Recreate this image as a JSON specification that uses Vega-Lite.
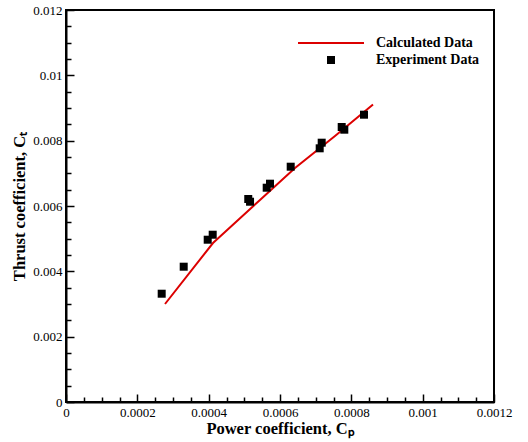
{
  "$schema": "https://vega.github.io/schema/vega-lite/v6.json",
  "width": 428,
  "height": 392,
  "autosize": {"type": "none"},
  "padding": {"left": 66, "top": 10, "right": 34, "bottom": 40},
  "background": "white",
  "config": {
    "view": {"stroke": "black", "strokeWidth": 2},
    "font": "Liberation Serif",
    "axis": {
      "grid": false,
      "domainColor": "black",
      "domainWidth": 2,
      "tickColor": "black",
      "tickWidth": 1.5,
      "labelFont": "Liberation Serif",
      "labelFontSize": 13,
      "labelColor": "black",
      "titleFont": "Liberation Serif",
      "titleFontSize": 16.5,
      "titleFontWeight": "bold",
      "titleColor": "black",
      "labelOverlap": false,
      "labelFlush": false
    }
  },
  "datasets": {
    "calc": [
      {"cp": 0.0002776, "ct": 0.0030, "series": "Calculated Data"},
      {"cp": 0.0004121, "ct": 0.004867, "series": "Calculated Data"},
      {"cp": 0.0004458, "ct": 0.005204, "series": "Calculated Data"},
      {"cp": 0.0005439, "ct": 0.006184, "series": "Calculated Data"},
      {"cp": 0.0006421, "ct": 0.007163, "series": "Calculated Data"},
      {"cp": 0.0007542, "ct": 0.008143, "series": "Calculated Data"},
      {"cp": 0.0008608, "ct": 0.009107, "series": "Calculated Data"}
    ],
    "exp": [
      {"cp": 0.0002683, "ct": 0.003315, "series": "Experiment Data"},
      {"cp": 0.00033, "ct": 0.004142, "series": "Experiment Data"},
      {"cp": 0.0003973, "ct": 0.004968, "series": "Experiment Data"},
      {"cp": 0.0004113, "ct": 0.005121, "series": "Experiment Data"},
      {"cp": 0.000511, "ct": 0.006214, "series": "Experiment Data"},
      {"cp": 0.000516, "ct": 0.006131, "series": "Experiment Data"},
      {"cp": 0.0005627, "ct": 0.00656, "series": "Experiment Data"},
      {"cp": 0.000572, "ct": 0.006683, "series": "Experiment Data"},
      {"cp": 0.00063, "ct": 0.007203, "series": "Experiment Data"},
      {"cp": 0.0007113, "ct": 0.007766, "series": "Experiment Data"},
      {"cp": 0.0007169, "ct": 0.007938, "series": "Experiment Data"},
      {"cp": 0.000773, "ct": 0.008418, "series": "Experiment Data"},
      {"cp": 0.0007803, "ct": 0.008336, "series": "Experiment Data"},
      {"cp": 0.0008355, "ct": 0.008795, "series": "Experiment Data"}
    ]
  },
  "encoding": {
    "x": {
      "field": "cp",
      "type": "quantitative",
      "scale": {"domain": [0, 0.0012], "nice": false, "zero": false},
      "axis": {
        "title": "Power coefficient, Cₚ",
        "values": [0, 0.00005, 0.0001, 0.00015, 0.0002, 0.00025, 0.0003, 0.00035, 0.0004, 0.00045, 0.0005, 0.00055, 0.0006, 0.00065, 0.0007, 0.00075, 0.0008, 0.00085, 0.0009, 0.00095, 0.001, 0.00105, 0.0011, 0.00115, 0.0012],
        "labelExpr": "round(datum.value*1e5) % 20 == 0 ? format(datum.value, '~g') : ''",
        "tickSize": {"condition": {"test": "round(datum.value*1e5) % 20 != 0", "value": -5}, "value": -8},
        "labelPadding": 12,
        "titlePadding": -2
      }
    },
    "y": {
      "field": "ct",
      "type": "quantitative",
      "scale": {"domain": [0, 0.012], "nice": false, "zero": false},
      "axis": {
        "title": "Thrust coefficient, Cₜ",
        "values": [0, 0.0005, 0.001, 0.0015, 0.002, 0.0025, 0.003, 0.0035, 0.004, 0.0045, 0.005, 0.0055, 0.006, 0.0065, 0.007, 0.0075, 0.008, 0.0085, 0.009, 0.0095, 0.01, 0.0105, 0.011, 0.0115, 0.012],
        "labelExpr": "round(datum.value*1e4) % 20 == 0 ? format(datum.value, '~g') : ''",
        "tickSize": {"condition": {"test": "round(datum.value*1e4) % 20 != 0", "value": -5}, "value": -8},
        "labelPadding": 12,
        "titlePadding": 5
      }
    },
    "color": {
      "field": "series",
      "type": "nominal",
      "scale": {"domain": ["Calculated Data", "Experiment Data"], "range": ["#dc0000", "black"]},
      "legend": {
        "title": null,
        "orient": "none",
        "legendX": 258,
        "legendY": 26,
        "labelFont": "Liberation Serif",
        "labelFontSize": 14,
        "labelFontWeight": "bold",
        "labelColor": "black",
        "labelOffset": 38,
        "rowPadding": 3,
        "symbolSize": 121,
        "encode": {
          "symbols": {
            "update": {
              "shape": {"signal": "datum.value === 'Calculated Data' ? 'M-6,0H6' : 'M-0.73,-0.73H0.73V0.73H-0.73Z'"},
              "fill": {"signal": "datum.value === 'Calculated Data' ? 'transparent' : 'black'"},
              "stroke": {"signal": "datum.value === 'Calculated Data' ? '#dc0000' : 'transparent'"},
              "strokeWidth": {"signal": "datum.value === 'Calculated Data' ? 2 : 0"},
              "opacity": {"value": 1}
            }
          }
        }
      }
    }
  },
  "layer": [
    {
      "data": {"name": "calc"},
      "mark": {"type": "line", "strokeWidth": 2}
    },
    {
      "data": {"name": "exp"},
      "mark": {"type": "square", "size": 64, "filled": true, "opacity": 1}
    }
  ]
}
